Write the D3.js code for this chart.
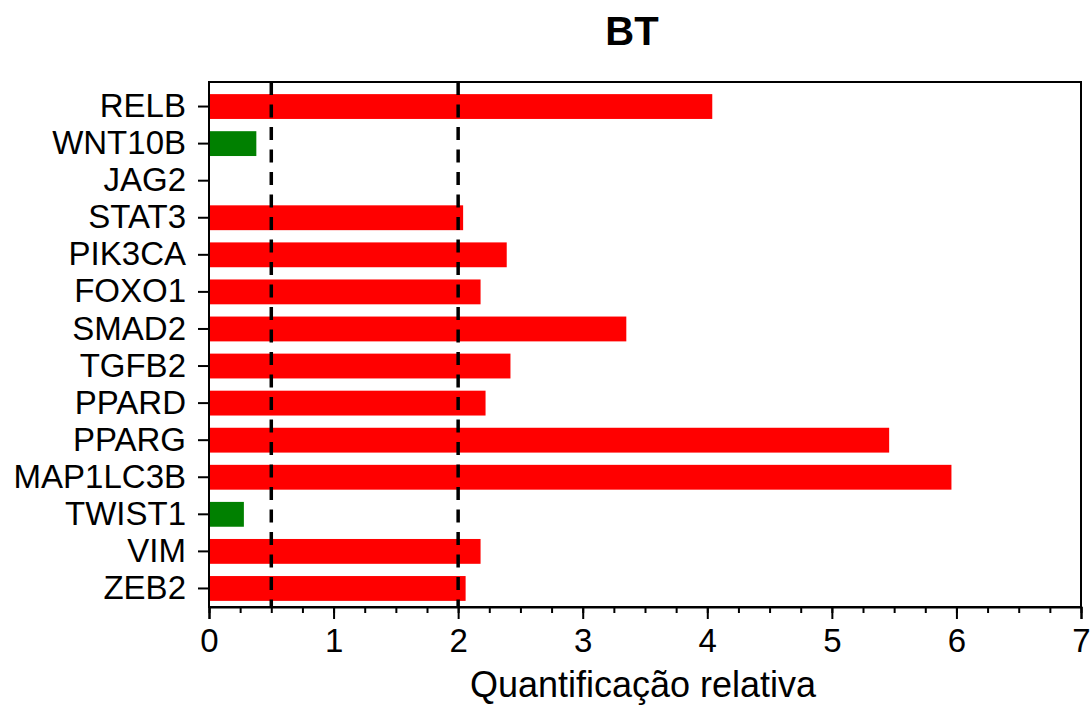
<!DOCTYPE html>
<html>
<head>
<meta charset="utf-8">
<script src="https://cdn.jsdelivr.net/npm/d3@7"></script>
<style>
  body { margin: 0; background: #fff; }
  text { font-family: "Liberation Sans", Arial, sans-serif; fill: #000; }
  .axis path, .axis line { stroke: #000; stroke-width: 2; }
</style>
</head>
<body>
<script>
// data
var genes = ["RELB", "WNT10B", "JAG2", "STAT3", "PIK3CA", "FOXO1", "SMAD2", "TGFB2",
             "PPARD", "PPARG", "MAP1LC3B", "TWIST1", "VIM", "ZEB2"];
var values = [4.04, 0.38, 0, 2.04, 2.39, 2.18, 3.35, 2.42, 2.22, 5.46, 5.96, 0.28, 2.18, 2.06];
var xTicks = [0, 1, 2, 3, 4, 5, 6, 7];
var cutoffs = [0.5, 2];

var width = 1090, height = 712;
var margin = {top: 82, right: 9, bottom: 105, left: 209};

var svg = d3.select("body").append("svg")
    .attr("width", width)
    .attr("height", height);

var x = d3.scaleLinear()
    .domain([0, 7])
    .range([margin.left, width - margin.right]);

var y = d3.scaleBand()
    .domain(genes)
    .range([margin.top + 6, height - margin.bottom])
    .paddingInner(0.33)
    .paddingOuter(0.165);

//bars: red above 1 (up), green below (down)
svg.selectAll(".bar")
    .data(genes)
    .enter()
    .append("rect")
    .attr("class", "bar")
    .attr("x", x(0))
    .attr("y", function(d){ return y(d); })
    .attr("width", function(d, i){ return x(values[i]) - x(0); })
    .attr("height", y.bandwidth())
    .attr("fill", function(d, i){ return values[i] < 1 ? "#008000" : "#ff0000"; });

//dashed cutoff lines on top of the bars
svg.selectAll(".cutoff")
    .data(cutoffs)
    .enter()
    .append("line")
    .attr("class", "cutoff")
    .attr("x1", function(d){ return x(d); })
    .attr("x2", function(d){ return x(d); })
    .attr("y1", margin.top)
    .attr("y2", height - margin.bottom)
    .attr("stroke", "#000")
    .attr("stroke-width", 3.5)
    .attr("stroke-dasharray", "13,9.5");

//frame
svg.append("rect")
    .attr("x", margin.left)
    .attr("y", margin.top)
    .attr("width", width - margin.left - margin.right)
    .attr("height", height - margin.top - margin.bottom)
    .attr("fill", "none")
    .attr("stroke", "#000")
    .attr("stroke-width", 2);

//minor x ticks
svg.append("g")
    .attr("class", "axis")
    .attr("transform", "translate(0," + (height - margin.bottom) + ")")
    .call(d3.axisBottom(x).tickValues(d3.range(0, 7.001, 0.25)).tickSize(6).tickFormat(""))
    .call(function(g){ g.select(".domain").remove(); });

//major x ticks
var xAxis = svg.append("g")
    .attr("class", "axis")
    .attr("transform", "translate(0," + (height - margin.bottom) + ")")
    .call(d3.axisBottom(x).tickValues(xTicks).tickSize(12).tickPadding(10).tickFormat(d3.format("d")));
xAxis.selectAll("text").attr("font-size", 33);

var yAxis = svg.append("g")
    .attr("class", "axis")
    .attr("transform", "translate(" + margin.left + ",0)")
    .call(d3.axisLeft(y).tickSize(11).tickPadding(12));
yAxis.selectAll("text").attr("font-size", 33);
yAxis.select(".domain").remove();

svg.append("text")
    .attr("x", 643)
    .attr("y", 697)
    .attr("text-anchor", "middle")
    .attr("font-size", 36)
    .text("Quantificação relativa");

svg.append("text")
    .attr("x", 632)
    .attr("y", 45)
    .attr("text-anchor", "middle")
    .attr("font-size", 40)
    .attr("font-weight", "bold")
    .text("BT");
</script>
</body>
</html>
